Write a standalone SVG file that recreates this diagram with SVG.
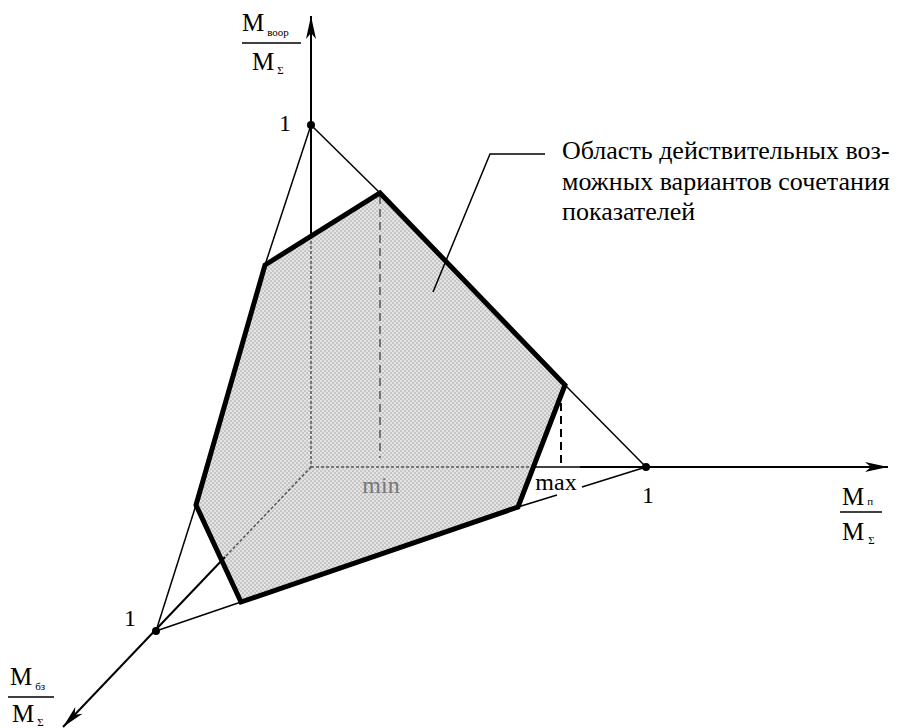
<svg xmlns="http://www.w3.org/2000/svg" width="900" height="728" viewBox="0 0 900 728">
<style>
text{font-family:"Liberation Serif","DejaVu Serif",serif;fill:#000}
.t{font-size:24px}
.c{font-size:26px}
.m{font-size:25px}
.s{font-size:11px}
.thin{stroke:#000;stroke-width:1.5;fill:none}
.axis{stroke:#000;stroke-width:2;fill:none}
.hid{stroke:#555;stroke-width:1.5;stroke-dasharray:3 2;fill:none}
</style>
<defs>
<pattern id="hatch" width="4" height="4" patternUnits="userSpaceOnUse">
<rect width="4" height="4" fill="#c6c6c6"/>
<rect width="2" height="2" fill="#e4e4e4"/>
<rect x="2" y="2" width="2" height="2" fill="#e4e4e4"/>
</pattern>
<marker id="arr" markerUnits="userSpaceOnUse" viewBox="-24 -6 25 12" refX="0" refY="0" markerWidth="25" markerHeight="12" orient="auto">
<path d="M0,0 L-23,-5 L-17,0 L-23,5 Z" fill="#000"/>
</marker>
</defs>

<g id="region">
<polygon points="265,265 380,193 565,385 518,507 241,602 196,505" fill="url(#hatch)"/>
</g>

<g id="connectors">
<line class="hid" x1="311" y1="236" x2="311" y2="467"/>
<line class="hid" x1="311" y1="467" x2="533" y2="467"/>
<line class="hid" x1="311" y1="467" x2="225" y2="557"/>
<line x1="380" y1="196" x2="380" y2="458" stroke="#555" stroke-width="1.5" stroke-dasharray="8 5"/>
<line x1="561" y1="403" x2="561" y2="467" stroke="#000" stroke-width="2" stroke-dasharray="8 5"/>
<line class="axis" x1="311" y1="236" x2="311" y2="16" marker-end="url(#arr)"/>
<line class="thin" x1="533" y1="467" x2="580" y2="467"/>
<line class="axis" x1="580" y1="467" x2="888" y2="467" marker-end="url(#arr)"/>
<line class="axis" x1="225" y1="557" x2="63" y2="727" marker-end="url(#arr)"/>
<line class="thin" x1="311" y1="125" x2="265" y2="265"/>
<line class="thin" x1="311" y1="125" x2="380" y2="193"/>
<line class="thin" x1="646" y1="467" x2="565" y2="385"/>
<line class="thin" x1="646" y1="467" x2="582" y2="487"/>
<line class="thin" x1="557" y1="495" x2="518" y2="507"/>
<line class="thin" x1="156" y1="631" x2="196" y2="505"/>
<line class="thin" x1="156" y1="631" x2="241" y2="602"/>
<polyline class="thin" points="545,154 490,154 433,292"/>
</g>

<g id="region-outline">
<polygon points="265,265 380,193 565,385 518,507 241,602 196,505" fill="none" stroke="#000" stroke-width="5" stroke-linejoin="miter"/>
</g>

<g id="points">
<circle cx="311" cy="125" r="4"/>
<circle cx="646" cy="467" r="4"/>
<circle cx="156" cy="631" r="4"/>
</g>

<g id="labels" font-family="Liberation Serif, DejaVu Serif, serif">
<text class="t" x="285" y="131" text-anchor="middle">1</text>
<text class="t" x="648" y="503" text-anchor="middle">1</text>
<text class="t" x="130" y="626" text-anchor="middle">1</text>
<text class="t" x="381" y="493" text-anchor="middle" style="fill:#777">min</text>
<text class="t" x="556" y="490" text-anchor="middle">max</text>
</g>

<g id="label-vertical" font-family="Liberation Serif, DejaVu Serif, serif">
<text class="m" x="242" y="31">M<tspan class="s" dx="3" dy="5">воор</tspan></text>
<line x1="242" y1="43" x2="301" y2="43" stroke="#000" stroke-width="1.5"/>
<text class="m" x="252" y="70">M<tspan class="s" dx="3" dy="4">Σ</tspan></text>
</g>

<g id="label-horizontal" font-family="Liberation Serif, DejaVu Serif, serif">
<text class="m" x="842" y="505">M<tspan class="s" dx="3" dy="0">п</tspan></text>
<line x1="840" y1="512" x2="882" y2="512" stroke="#000" stroke-width="1.5"/>
<text class="m" x="842" y="540">M<tspan class="s" dx="4" dy="4">Σ</tspan></text>
</g>

<g id="label-diagonal" font-family="Liberation Serif, DejaVu Serif, serif">
<text class="m" x="10" y="685">M<tspan class="s" dx="3" dy="5">бз</tspan></text>
<line x1="8" y1="697" x2="54" y2="697" stroke="#000" stroke-width="1.5"/>
<text class="m" x="12" y="722">M<tspan class="s" dx="3" dy="4">Σ</tspan></text>
</g>

<g id="callout" font-family="Liberation Serif, DejaVu Serif, serif">
<text class="c" x="562" y="159">Область действительных воз-</text>
<text class="c" x="562" y="190">можных вариантов сочетания</text>
<text class="c" x="562" y="220">показателей</text>
</g>
</svg>
